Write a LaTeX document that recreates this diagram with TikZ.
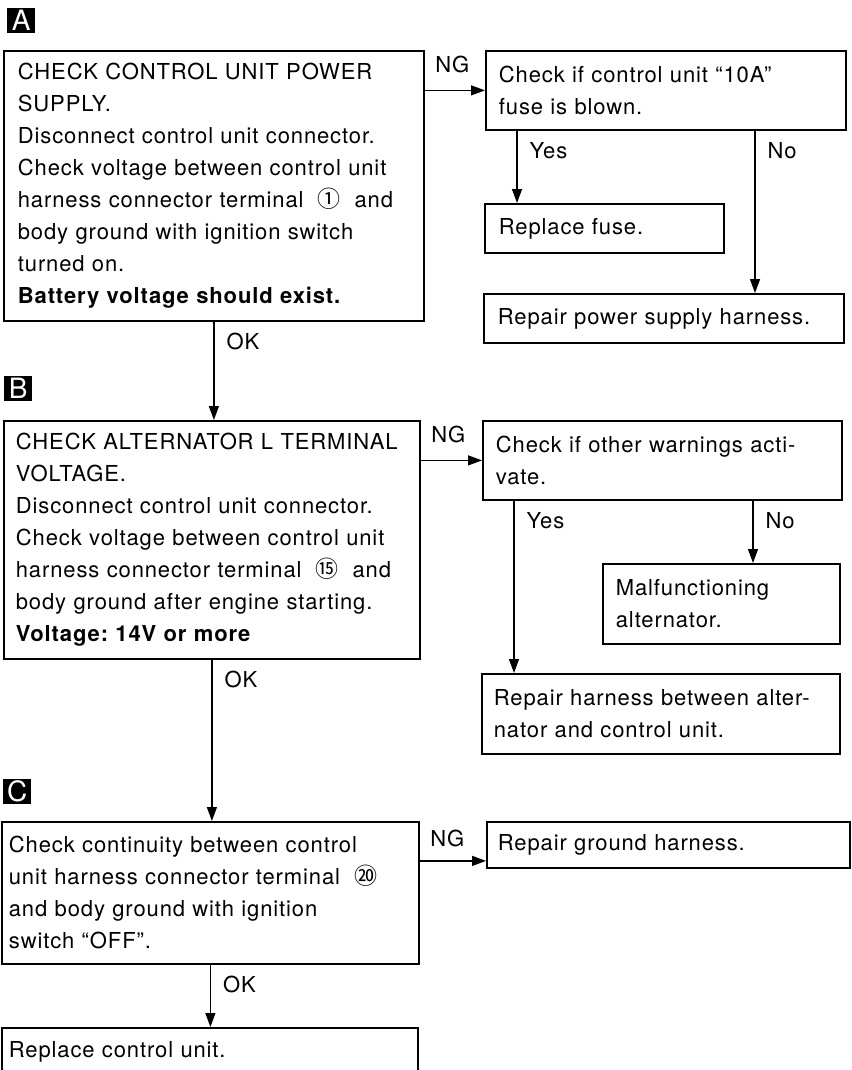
\documentclass[tikz,border=0pt]{standalone}
\usepackage{fontspec}
\setmainfont{TeX Gyre Heros}[LetterSpace=4]
\newfontfamily\cjk{Noto Sans CJK JP}
\usetikzlibrary{positioning,arrows.meta}
\newcommand{\termno}[1]{\hspace{14pt}{\cjk\fontsize{23}{23}\selectfont #1}\hspace{14pt}}
\frenchspacing

\begin{document}
\begin{tikzpicture}[x=1pt, y=-1pt,
    box/.style={draw, line width=1.8pt, anchor=north west, align=left, inner ysep=0pt, font=\fontsize{22}{32}\selectfont},
    freccia/.style={line width=1.3pt, -{Triangle[length=14pt,width=10pt]}},
    etich/.style={inner sep=0pt, pos=0, font=\fontsize{22}{22}\selectfont},
    lettera/.style={fill=black, text=white, anchor=north west, inner sep=0pt, minimum height=25pt, minimum width=28pt, font=\fontsize{28}{28}\selectfont}]
    \useasboundingbox (0,0) rectangle (851,1070);

    % LETTERE
    \node[lettera] (mA) at (7,8) {A};
    \node[lettera] (mB) at (4,376) {B};
    \node[lettera] (mC) at (3,779) {C};

    % BLOCCO A
    \node[box, text width=392pt, inner xsep=14pt, minimum height=270pt] (A1) at (3,50)
        {CHECK CONTROL UNIT POWER\\ SUPPLY.\\ Disconnect control unit connector.\\
         Check voltage between control unit\\ harness connector terminal\termno{①}and\\
         body ground with ignition switch\\ turned on.\\ \textbf{Battery voltage should exist.}};
    \node[box, text width=334pt, inner xsep=13pt, minimum height=79pt] (A2) at (485,50)
        {Check if control unit ``10A''\\ fuse is blown.};
    \node[box, text width=211pt, inner xsep=14pt, minimum height=49pt] (fuse) at (484,203)
        {Replace fuse.};
    \node[box, text width=332pt, inner xsep=14pt, minimum height=49pt] (psu) at (483,293)
        {Repair power supply harness.};

    % BLOCCO B
    \node[box, text width=392pt, inner xsep=12pt, minimum height=238pt] (B1) at (3,420)
        {CHECK ALTERNATOR L TERMINAL\\ VOLTAGE.\\ Disconnect control unit connector.\\
         Check voltage between control unit\\ harness connector terminal\termno{⑮}and\\
         body ground after engine starting.\\ \textbf{Voltage: 14V or more}};
    \node[box, text width=333pt, inner xsep=13pt, minimum height=79pt] (B2) at (482,420)
        {Check if other warnings acti-\\ vate.};
    \node[box, text width=211pt, inner xsep=13pt, minimum height=80pt] (malf) at (602,563)
        {Malfunctioning\\ alternator.};
    \node[box, text width=334pt, inner xsep=12pt, minimum height=80pt] (harn) at (481,673)
        {Repair harness between alter-\\ nator and control unit.};

    % BLOCCO C
    \node[box, text width=403pt, inner xsep=7pt, minimum height=142pt] (C1) at (1,821)
        {Check continuity between control\\ unit harness connector terminal\termno{⑳}\\
         and body ground with ignition\\ switch ``OFF''.};
    \node[box, text width=341pt, inner xsep=11pt, minimum height=46pt] (C2) at (486,821)
        {Repair ground harness.};
    \node[box, text width=402pt, inner xsep=7pt, minimum height=48pt] (C3) at (1,1027)
        {Replace control unit.};

    % FRECCE
    \coordinate (yA) at ([xshift=32pt]A2.south west);
    \coordinate (nA) at ([xshift=270pt]A2.south west);
    \coordinate (yB) at ([xshift=32pt]B2.south west);
    \coordinate (nB) at ([xshift=271pt]B2.south west);
    \coordinate (gC) at ([yshift=-16pt]C2.west);

    \draw[freccia] (A1.east |- A2.west) -- node[etich, anchor=south west, xshift=10pt, yshift=17pt] (ngA) {NG} (A2.west);
    \draw[freccia] (yA) -- node[etich, anchor=north west, xshift=12pt, yshift=-11pt] (siA) {Yes} (yA |- fuse.north);
    \draw[freccia] (nA) -- node[etich, anchor=north west, xshift=12pt, yshift=-11pt] (noA) {No} (nA |- psu.north);
    \draw[freccia] (A1.south) -- node[etich, anchor=north west, xshift=12pt, yshift=-11pt] (okA) {OK} (A1.south |- B1.north);

    \draw[freccia] (B1.east |- B2.west) -- node[etich, anchor=south west, xshift=10pt, yshift=17pt] (ngB) {NG} (B2.west);
    \draw[freccia] (yB) -- node[etich, anchor=north west, xshift=12pt, yshift=-11pt] (siB) {Yes} (yB |- harn.north);
    \draw[freccia] (nB) -- node[etich, anchor=north west, xshift=12pt, yshift=-11pt] (noB) {No} (nB |- malf.north);
    \draw[freccia] (B1.south) -- node[etich, anchor=north west, xshift=12pt, yshift=-11pt] (okB) {OK} (B1.south |- C1.north);

    \draw[freccia] (C1.east |- gC) -- node[etich, anchor=south west, xshift=10pt, yshift=13pt] (ngC) {NG} (gC);
    \draw[freccia] (C1.south) -- node[etich, anchor=north west, xshift=12pt, yshift=-11pt] (okC) {OK} (C1.south |- C3.north);
\end{tikzpicture}
\end{document}
